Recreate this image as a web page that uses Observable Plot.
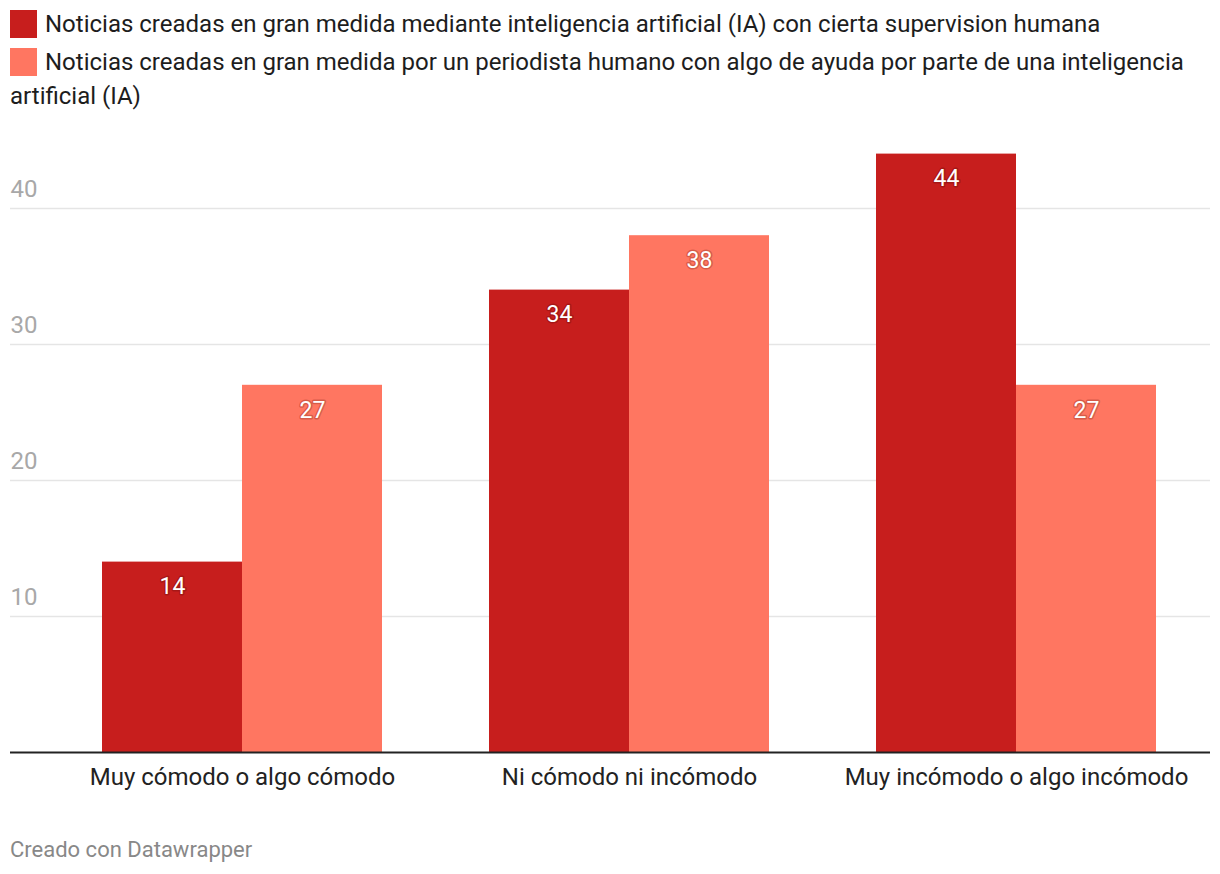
<!DOCTYPE html>
<html>
<head>
<meta charset="utf-8">
<script src="https://cdn.jsdelivr.net/npm/d3@7"></script>
<script src="https://cdn.jsdelivr.net/npm/@observablehq/plot@0.6"></script>
<style>
  html, body { margin: 0; padding: 0; background: #fff; }
  body { width: 1220px; height: 874px; position: relative; font-family: Roboto, sans-serif; overflow: hidden; }
  #legend { position: absolute; left: 10px; top: 7px; width: 1200px; font-size: 24px; color: #1d1d1d; line-height: 34px; }
  .item { display: block; margin-bottom: 4px; }
  .sw { display: inline-block; width: 27px; height: 28px; vertical-align: -6px; margin-right: 8px; }
  #chart { position: absolute; left: 0; top: 130px; }
  #caption { position: absolute; left: 10px; top: 837px; font-size: 22px; color: #888; }
  #chart svg text.val, #chart svg .val text { paint-order: stroke; }
</style>
</head>
<body>
<div id="legend"></div>
<div id="chart"></div>
<div id="caption">Creado con Datawrapper</div>
<script>
const categories = ["Muy cómodo o algo cómodo", "Ni cómodo ni incómodo", "Muy incómodo o algo incómodo"];
const seriesNames = [
  "Noticias creadas en gran medida mediante inteligencia artificial (IA) con cierta supervision humana",
  "Noticias creadas en gran medida por un periodista humano con algo de ayuda por parte de una inteligencia artificial (IA)"
];
const seriesAI = [14, 34, 44];
const seriesHuman = [27, 38, 27];
const yTicks = [10, 20, 30, 40];
const colors = ["#c71e1d", "#ff7661"];

// legend
const legend = document.getElementById("legend");
seriesNames.forEach((name, i) => {
  const div = document.createElement("div");
  div.className = "item";
  const sw = document.createElement("span");
  sw.className = "sw";
  sw.style.background = colors[i];
  div.appendChild(sw);
  div.appendChild(document.createTextNode(name));
  legend.appendChild(div);
});

const dataAI = categories.map((c, i) => ({category: c, value: seriesAI[i]}));
const dataHuman = categories.map((c, i) => ({category: c, value: seriesHuman[i]}));

const half = 140;
const plot = Plot.plot({
  width: 1220,
  height: 670,
  marginLeft: 10,
  marginRight: 10,
  marginTop: 23.6,
  marginBottom: 48,
  style: {fontFamily: "Roboto, sans-serif", background: "transparent"},
  x: {domain: categories, range: [101, 1156], paddingInner: 1 - 280 / 387.5, paddingOuter: 0, label: null},
  y: {domain: [0, 44], label: null, axis: null},
  marks: [
    Plot.ruleY(yTicks, {stroke: "#e5e5e5", strokeWidth: 1.5}),
    Plot.text(yTicks, {y: d => d, text: d => String(d), frameAnchor: "left", textAnchor: "start", dy: -19, fill: "#a8a8a8", fontSize: 24}),
    Plot.barY(dataAI, {x: "category", y: "value", fill: colors[0], insetRight: half}),
    Plot.barY(dataHuman, {x: "category", y: "value", fill: colors[1], insetLeft: half}),
    Plot.text(dataAI, {x: "category", y: "value", text: d => String(d.value), dx: -half / 2, dy: 25, fill: "white", stroke: "#6a0a0a", strokeOpacity: 0.35, strokeWidth: 3, fontSize: 23, className: "val"}),
    Plot.text(dataHuman, {x: "category", y: "value", text: d => String(d.value), dx: half / 2, dy: 25, fill: "white", stroke: "#8a2a1a", strokeOpacity: 0.35, strokeWidth: 3, fontSize: 23, className: "val"}),
    Plot.ruleY([0], {stroke: "#222", strokeWidth: 2}),
    Plot.axisX({tickSize: 0, tickPadding: 15, fontSize: 24, fill: "#222", label: null})
  ]
});
document.getElementById("chart").appendChild(plot);
</script>
</body>
</html>
